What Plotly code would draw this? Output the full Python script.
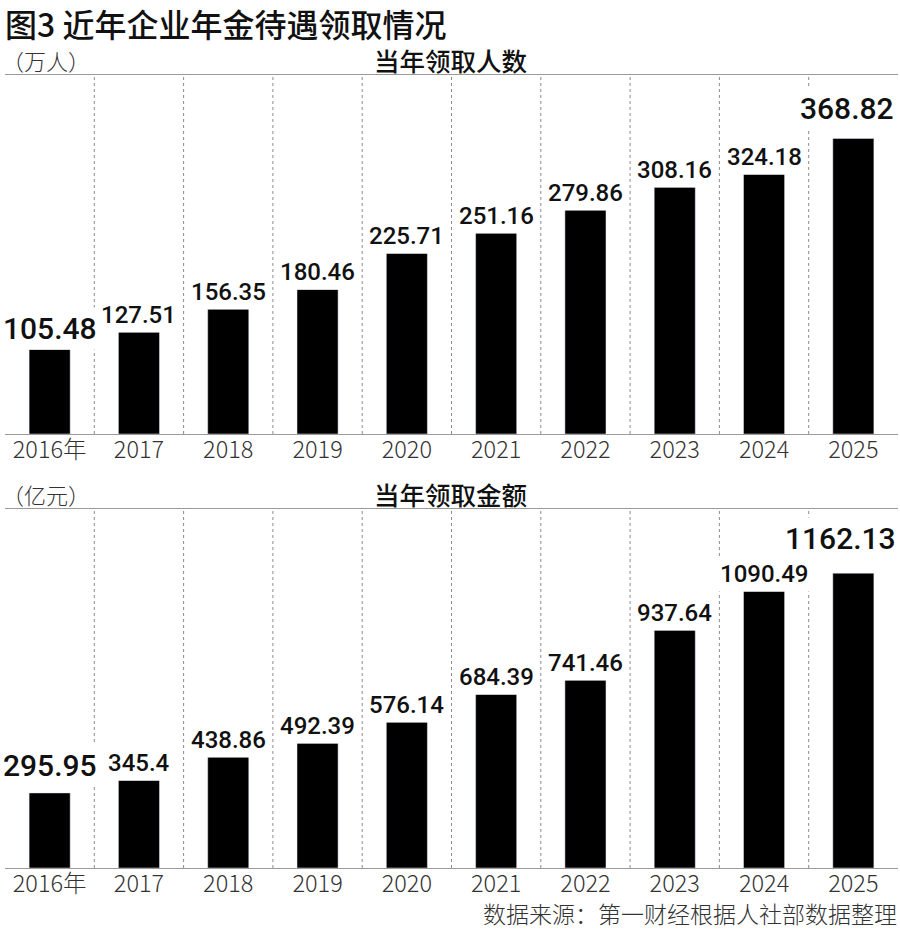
import plotly.graph_objects as go

# Data
years = ["2016", "2017", "2018", "2019", "2020", "2021", "2022", "2023", "2024", "2025"]
tick_labels = ["2016年", "2017", "2018", "2019", "2020", "2021", "2022", "2023", "2024", "2025"]
people = [105.48, 127.51, 156.35, 180.46, 225.71, 251.16, 279.86, 308.16, 324.18, 368.82]
people_text = ["105.48", "127.51", "156.35", "180.46", "225.71", "251.16", "279.86", "308.16", "324.18", "368.82"]
amount = [295.95, 345.4, 438.86, 492.39, 576.14, 684.39, 741.46, 937.64, 1090.49, 1162.13]
amount_text = ["295.95", "345.4", "438.86", "492.39", "576.14", "684.39", "741.46", "937.64", "1090.49", "1162.13"]

W, H = 900, 930
num_font = "Roboto, DejaVu Sans"
cjk_font = "Noto Sans CJK SC"

def py(px):
    # pixel row from top -> paper fraction
    return 1 - px / H

fig = go.Figure()

idx = list(range(len(years)))
fig.add_trace(go.Bar(x=idx, y=people, marker_color="black", xaxis="x", yaxis="y",
                     hovertext=years, hoverinfo="text+y"))
fig.add_trace(go.Bar(x=idx, y=amount, marker_color="black", xaxis="x2", yaxis="y2",
                     hovertext=years, hoverinfo="text+y"))

axis_x = dict(
    tickmode="array", tickvals=idx, ticktext=tick_labels,
    showline=True, mirror=True, linecolor="#9a9a9a", linewidth=1,
    showgrid=False, ticks="", zeroline=False, ticklabelstandoff=-5,
    tickfont=dict(family=cjk_font, size=23.5, color="#333333", weight=300),
    domain=[5 / W, 898 / W], range=[-0.5, 9.5], fixedrange=True,
)
axis_y = dict(showgrid=False, showticklabels=False, zeroline=False, showline=False,
              ticks="", fixedrange=True)

fig.update_layout(
    width=W, height=H,
    margin=dict(l=0, r=0, t=0, b=0),
    paper_bgcolor="white", plot_bgcolor="white",
    showlegend=False, bargap=0.54,
    xaxis=dict(axis_x, anchor="y"),
    xaxis2=dict(axis_x, anchor="y2"),
    yaxis=dict(axis_y, domain=[py(434), py(75)], range=[0, 448], anchor="x"),
    yaxis2=dict(axis_y, domain=[py(868), py(509)], range=[0, 1415], anchor="x2"),
)

# dotted separators between year columns
for xa, ya in [("x", "y"), ("x2", "y2")]:
    for i in range(1, len(years)):
        fig.add_shape(type="line", xref=xa, yref=ya + " domain",
                      x0=i - 0.5, x1=i - 0.5, y0=0, y1=1,
                      line=dict(color="#8c8c8c", width=1, dash="dot"), layer="below")

# value labels, first and last larger; the big ones sit a bit higher,
# the last one is pushed in from the right edge
def add_labels(values, texts, xa, ya, first_lift, last_lift, last_shift):
    n = len(values)
    for i, (v, t) in enumerate(zip(values, texts)):
        big = i in (0, n - 1)
        lift = first_lift if i == 0 else (last_lift if i == n - 1 else 0)
        fig.add_annotation(
            x=i, y=v, xref=xa, yref=ya, text=t, showarrow=False,
            yanchor="bottom", yshift=-1 + lift,
            xshift=last_shift if i == n - 1 else 0,
            font=dict(family=num_font, size=30 if big else 24, color="#111111", weight=500),
            bgcolor="white", borderpad=3,
        )

add_labels(people, people_text, "x", "y", 0, 9, -6)
add_labels(amount, amount_text, "x2", "y2", 7, 14, -13)

# titles and headers
fig.add_annotation(text="图3 近年企业年金待遇领取情况", xref="paper", yref="paper",
                   x=3 / W, y=py(23), xanchor="left", yanchor="middle", showarrow=False,
                   font=dict(family=cjk_font, size=32, color="#111111", weight=500))
for unit, head, yy in [("（万人）", "当年领取人数", 60), ("（亿元）", "当年领取金额", 494)]:
    fig.add_annotation(text=unit, xref="paper", yref="paper", x=0, y=py(yy),
                       xanchor="left", yanchor="middle", showarrow=False,
                       font=dict(family=cjk_font, size=22, color="#333333", weight=300))
    fig.add_annotation(text=head, xref="paper", yref="paper", x=451 / W, y=py(yy),
                       xanchor="center", yanchor="middle", showarrow=False,
                       font=dict(family=cjk_font, size=25.5, color="#111111", weight=500))

fig.add_annotation(text="数据来源：第一财经根据人社部数据整理", xref="paper", yref="paper",
                   x=899 / W, y=py(913), xanchor="right", yanchor="middle", showarrow=False,
                   font=dict(family=cjk_font, size=23, color="#333333", weight=300))

fig.write_html("out.html", config={"displayModeBar": False},
               post_script="document.body.style.margin='0';document.body.style.overflow='hidden';")
